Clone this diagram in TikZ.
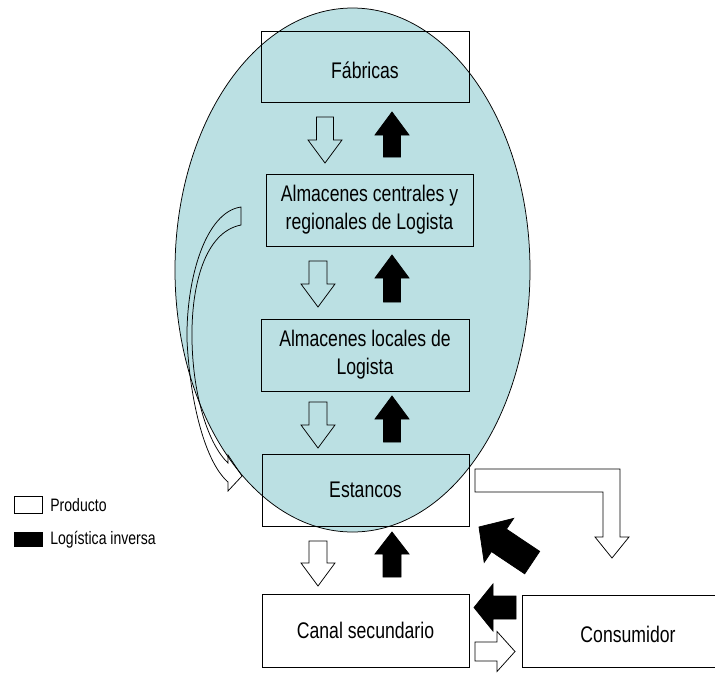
\documentclass[tikz,border=0pt]{standalone}
\usepackage{fontspec}
\setmainfont{Liberation Sans}[FakeStretch=0.78]
\definecolor{ellfill}{HTML}{BBE0E3}
\begin{document}
\begin{tikzpicture}[x=1pt,y=-1pt, line width=0.75pt,
  box/.style={draw=black, minimum width=207pt, minimum height=71pt, inner sep=0pt, align=center, font=\fontsize{22.6}{28}\selectfont},
  legtext/.style={anchor=west, inner sep=0pt, font=\fontsize{18}{20}\selectfont},
  pics/blockarrow/.style n args={4}{code={\path[pic actions] (0,0) -- (#2/2,#3) -- (#1/2,#3) -- (#1/2,#4) -- (-#1/2,#4) -- (-#1/2,#3) -- (-#2/2,#3) -- cycle;}},
  whitearrow/.style={draw=black},
  blackarrow/.style={draw=black, fill=black}]
\useasboundingbox (0,0) rectangle (715,673);

% ellipse
\draw[fill=ellfill] (352.5,270) ellipse [x radius=177.5pt, y radius=262pt];

% boxes
\node[box, minimum width=208pt] (fab) at (365,66.5) {\raisebox{-4pt}[\height][\depth]{Fábricas}};
\node[box, minimum height=72pt] (acen) at (369.5,210) {Almacenes centrales y\\regionales de Logista};
\node[box, minimum width=208pt, minimum height=72pt] (aloc) at (365,355) {Almacenes locales de\\Logista};
\node[box, minimum height=72pt] (est) at (365.5,490) {Estancos};
\node[box, minimum height=73pt] (canal) at (365.5,630.5) {Canal secundario};
\node[box, minimum width=212pt, minimum height=72pt] (cons) at (628,631) {\raisebox{-3pt}[\height][\depth]{Consumidor}};

% vertical arrows
\pic[whitearrow, rotate=180] at (325,163) {blockarrow={17}{34}{23}{46}};
\pic[blackarrow] at (392,112) {blockarrow={17}{34}{23}{45}};
\pic[whitearrow, rotate=180] at (318,307) {blockarrow={18}{34}{23}{46}};
\pic[blackarrow] at (392,255) {blockarrow={17}{34}{23}{47}};
\pic[whitearrow, rotate=180] at (318,448) {blockarrow={18}{34}{23}{46}};
\pic[blackarrow] at (392,396) {blockarrow={17}{34}{23}{46}};
\pic[whitearrow, rotate=180] at (318,586) {blockarrow={18}{34}{23}{45}};
\pic[blackarrow] at (392,532) {blockarrow={18}{34}{22}{45}};

% consumer arrows
\pic[blackarrow, rotate=56.2] at (479,527) {blockarrow={27}{53}{24}{64}};
\pic[blackarrow, rotate=90] at (474,607.5) {blockarrow={23}{47}{19}{42}};
\pic[whitearrow, rotate=-90] at (515,651.5) {blockarrow={19}{40}{18}{40}};

% bent arrow Estancos -> Consumidor
\draw[whitearrow] (475,469) -| (620,537) -- (629,537) -- (612,558) -- (595,537) -- (603,537) |- (475,492) -- cycle;

% curved arrow
\draw[whitearrow] (241,207) .. controls (205,212) and (186,280) .. (187,340)
  .. controls (190,402) and (205,462) .. (228,482) -- (228,491) -- (242,476) -- (228,455) -- (228,463)
  .. controls (209,445) and (193,398) .. (192,340)
  .. controls (191,285) and (205,232) .. (241,225) -- cycle;

% legend
\node[draw=black, minimum width=28pt, minimum height=17pt, inner sep=0pt] (lp) at (28,504.5) {};
\node[legtext] (lpt) at (50,505) {Producto};
\node[draw=black, fill=black, minimum width=28pt, minimum height=14pt, inner sep=0pt] (li) at (28,539) {};
\node[legtext] (lit) at (50,540) {Logística inversa};
\end{tikzpicture}
\end{document}
